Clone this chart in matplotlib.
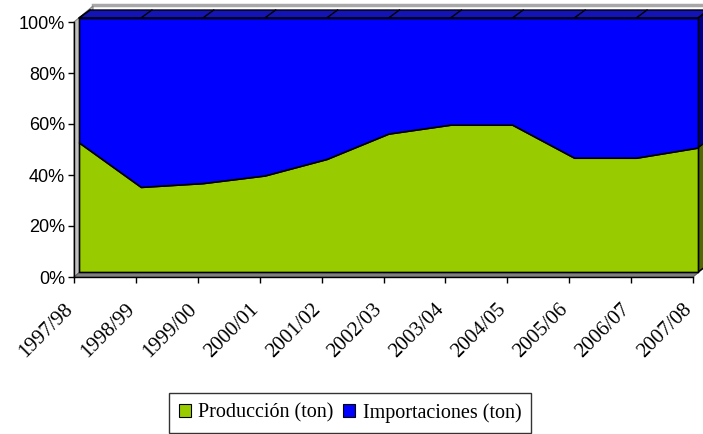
import matplotlib
matplotlib.use("Agg")
import matplotlib.pyplot as plt
from matplotlib.patches import Polygon, Patch
from matplotlib.lines import Line2D
from matplotlib.transforms import IdentityTransform, ScaledTranslation
import numpy as np

# Season labels and the two stacked series (share of total, %)
seasons = ["1997/98", "1998/99", "1999/00", "2000/01", "2001/02", "2002/03",
           "2003/04", "2004/05", "2005/06", "2006/07", "2007/08"]
produccion = [51.0, 33.5, 35.0, 38.0, 44.5, 54.5, 58.0, 58.0, 45.0, 45.0, 49.0]
importaciones = [49.0, 66.5, 65.0, 62.0, 55.5, 45.5, 42.0, 42.0, 55.0, 55.0, 51.0]
series_names = ["Producción (ton)", "Importaciones (ton)"]
y_ticks = [0, 20, 40, 60, 80, 100]
y_tick_labels = ["0%", "20%", "40%", "60%", "80%", "100%"]

GREEN = "#99CC00"
BLUE = "#0000FF"
GREEN_SIDE = "#4F6A00"
BLUE_SIDE = "#000090"
BLUE_TOP = "#1414B4"

W, H = 703, 434
fig = plt.figure(figsize=(W / 100, H / 100), dpi=100)
fig.patch.set_facecolor("white")

# 100% stacked shares
prod = np.array(produccion)
imp = np.array(importaciones)
total = prod + imp
prod_pct = prod / total * 100
x = np.arange(len(seasons))


def px_rect(l, t, r, b):
    return [l / W, (H - b) / H, (r - l) / W, (b - t) / H]


# Axis plane (ticks, walls) and front face of the areas
ax_axis = fig.add_axes(px_rect(74, 22, 693, 277))
ax = fig.add_axes(px_rect(79, 18, 698, 272))
for a in (ax_axis, ax):
    a.set_xlim(0, len(seasons) - 1)
    a.set_ylim(0, 100)
ax.set_zorder(2)
ax_axis.set_zorder(1)
ax.patch.set_visible(False)
ax.axis("off")

ax_axis.patch.set_visible(False)
for s in ("top", "right"):
    ax_axis.spines[s].set_visible(False)
for s in ("left", "bottom"):
    ax_axis.spines[s].set_color("black")
    ax_axis.spines[s].set_linewidth(1.0)
ax_axis.set_yticks(y_ticks)
ax_axis.set_yticklabels(y_tick_labels, fontfamily="Liberation Sans", fontsize=13)
ax_axis.set_xticks(x)
ax_axis.set_xticklabels(seasons, fontfamily="Liberation Serif", fontsize=15,
                        rotation=45, ha="right", va="center", rotation_mode="anchor")
ax_axis.tick_params(axis="y", direction="out", length=4.5, width=1, pad=2)
ax_axis.tick_params(axis="x", direction="out", length=4.5, width=1, pad=17)
shift = ScaledTranslation(-4 / 100, 0, fig.dpi_scale_trans)
for lbl in ax_axis.get_xticklabels():
    lbl.set_transform(lbl.get_transform() + shift)

ident = IdentityTransform()


def to_px(a, xs, ys, dx=0.0, dy=0.0):
    pts = a.transData.transform(np.column_stack([xs, ys]))
    pts[:, 0] += dx
    pts[:, 1] += dy
    return pts


def add_poly(a, pts, fc, ec="none", lw=0.0, z=1):
    a.add_patch(Polygon(pts, closed=True, facecolor=fc, edgecolor=ec,
                        linewidth=lw, transform=ident, clip_on=False, zorder=z))


# Walls and floor of the 3-D box
wx, wy = 19, 16
x0, x1 = 0, len(seasons) - 1
front_l = to_px(ax_axis, [x0, x0], [0, 100])
back_l = to_px(ax_axis, [x0, x0], [100, 0], wx, wy)
add_poly(ax_axis, np.vstack([front_l, back_l]), "#C0C0C0", "#808080", 0.8, z=0.5)
back_wall = np.vstack([to_px(ax_axis, [x0, x1], [100, 100], wx, wy),
                       to_px(ax_axis, [x1, x0], [0, 0], wx, wy)])
add_poly(ax_axis, back_wall, "white", "none", 0, z=0.4)
ax_axis.add_line(Line2D(*to_px(ax_axis, [x0, x1], [100, 100], wx, wy + 1).T,
                        color="#A8A8A8", lw=2.5, transform=ident, clip_on=False, zorder=0.45))
floor = np.vstack([to_px(ax_axis, [x0, x1], [0, 0]),
                   to_px(ax_axis, [x1, x0], [0, 0], wx, wy)])
add_poly(ax_axis, floor, "#808080", "#606060", 0.8, z=0.6)

# Depth of the area series
dx, dy = 11, 8
top_strip = np.vstack([to_px(ax, [x0, x1], [100, 100]),
                       to_px(ax, [x1, x0], [100, 100], dx, dy)])
add_poly(ax, top_strip, BLUE_TOP, "black", 1.0, z=1)
for xi in x:
    seg = np.vstack([to_px(ax, [xi], [100]), to_px(ax, [xi], [100], dx, dy)])
    ax.add_line(Line2D(seg[:, 0], seg[:, 1], color="black", lw=1.0,
                       transform=ident, clip_on=False, zorder=1.1))
p_end = prod_pct[-1]
side_g = np.vstack([to_px(ax, [x1, x1], [0, p_end]),
                    to_px(ax, [x1, x1], [p_end, 0], dx, dy)])
side_b = np.vstack([to_px(ax, [x1, x1], [p_end, 100]),
                    to_px(ax, [x1, x1], [100, p_end], dx, dy)])
add_poly(ax, side_g, GREEN_SIDE, "black", 1.0, z=1)
add_poly(ax, side_b, BLUE_SIDE, "black", 1.0, z=1)

# Front face: stacked areas
ax.stackplot(x, prod_pct, 100 - prod_pct, colors=[GREEN, BLUE],
             edgecolor="black", linewidth=1.2, zorder=3)
for coll in ax.collections:
    coll.set_clip_on(False)

# Legend
handles = [Patch(facecolor=GREEN, edgecolor="black", linewidth=0.8),
           Patch(facecolor=BLUE, edgecolor="black", linewidth=0.8)]
leg = fig.legend(handles, series_names, loc="upper center",
                 bbox_to_anchor=(350 / W, (H - 393) / H), ncol=2,
                 prop={"family": "Liberation Serif", "size": 14.5},
                 frameon=True, fancybox=False, shadow=False,
                 handlelength=0.6, handleheight=0.6, handletextpad=0.35,
                 columnspacing=0.5, borderpad=0.5, borderaxespad=0)
leg.get_frame().set_edgecolor("black")
leg.get_frame().set_linewidth(1.0)

fig.savefig("out.png", dpi=100, facecolor="white")
